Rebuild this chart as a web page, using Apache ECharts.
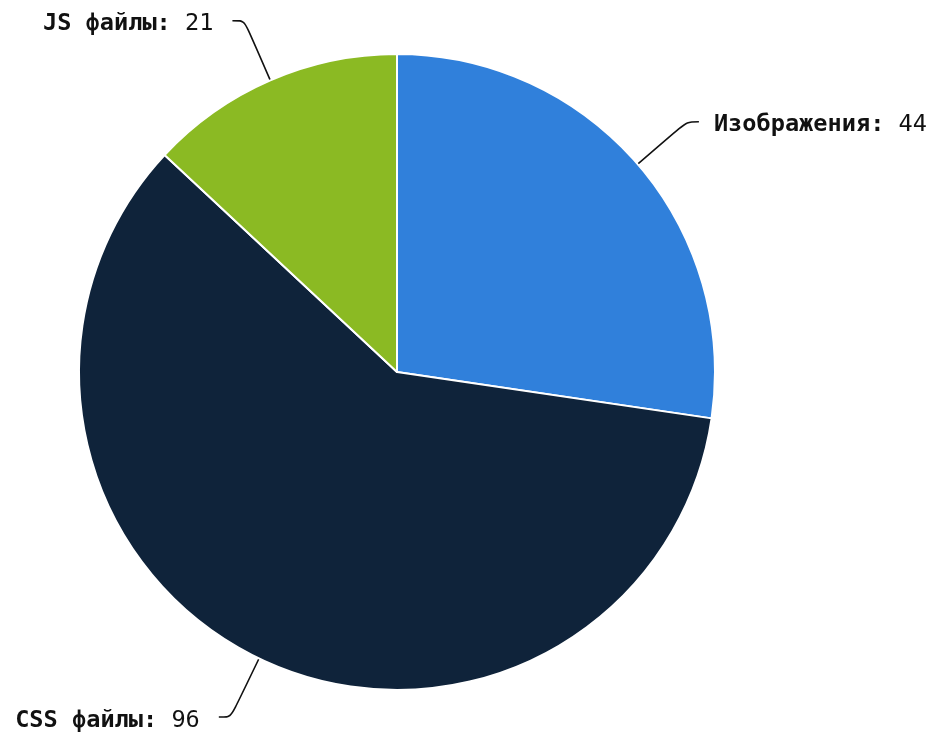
<!DOCTYPE html>
<html>
<head>
<meta charset="utf-8">
<script src="https://cdn.jsdelivr.net/npm/echarts@6/dist/echarts.min.js"></script>
<style>html,body{margin:0;padding:0;background:#fff}#chart{width:934px;height:733px}</style>
</head>
<body>
<div id="chart"></div>
<script>
const categories = ['Изображения', 'CSS файлы', 'JS файлы'];
const values = [44, 96, 21];
const colors = ['#3080DB', '#0F233A', '#8BBA23'];

const chart = echarts.init(document.getElementById('chart'), null, {renderer: 'canvas'});
chart.setOption({
  animation: false,
  color: colors,
  series: [{
    type: 'pie',
    center: [397, 372],
    radius: [0, 318],
    startAngle: 90,
    clockwise: true,
    avoidLabelOverlap: false,
    data: categories.map((c, i) => ({name: c, value: values[i]})),
    itemStyle: {borderColor: '#ffffff', borderWidth: 2},
    label: {
      show: true,
      position: 'outside',
      distanceToLabelLine: 15,
      padding: [7, 0, 0, 0],
      fontFamily: 'DejaVu Sans Mono',
      fontSize: 23.6,
      color: '#111',
      formatter: '{n|{b}:} {v|{c}}',
      rich: {
        n: {fontFamily: 'DejaVu Sans Mono', fontSize: 23.6, fontWeight: 'bold', color: '#111'},
        v: {fontFamily: 'DejaVu Sans Mono', fontSize: 23.6, fontWeight: 'normal', color: '#111', padding: [0, 4, 0, 0]}
      }
    },
    labelLine: {
      show: true,
      length: 65,
      length2: 12,
      smooth: 0.3,
      lineStyle: {color: '#111', width: 1.6}
    }
  }]
});
</script>
</body>
</html>
